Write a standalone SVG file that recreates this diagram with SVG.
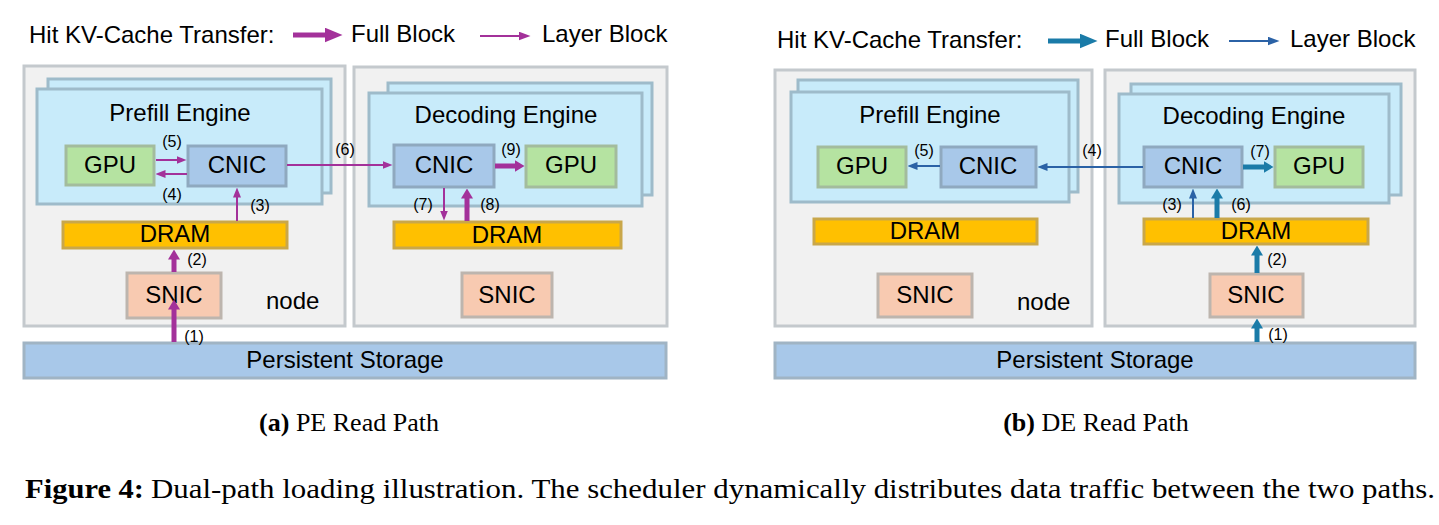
<svg xmlns="http://www.w3.org/2000/svg" width="1439" height="525" viewBox="0 0 1439 525">
<style>
.t{font-family:"Liberation Sans",Arial,Helvetica,sans-serif;font-size:24px;fill:#000}
.c{text-anchor:middle}
.l{font-family:"Liberation Sans",Arial,Helvetica,sans-serif;font-size:16px;fill:#000;text-anchor:middle}
.cap{font-family:"Liberation Serif","Times New Roman",serif;fill:#000}
.node{fill:#F1F1F1;stroke:#C4C9CD;stroke-width:3}
.eng{fill:#C8EBFA;stroke:#9EBBCA;stroke-width:3}
.gpu{fill:#B5E3A1;stroke:#A3BC9D;stroke-width:3}
.cnic{fill:#A8C8E9;stroke:#8FA9BF;stroke-width:3}
.dram{fill:#FFC000;stroke:#C9A74A;stroke-width:3}
.snic{fill:#F8CAB1;stroke:#BDB5AE;stroke-width:3}
.stor{fill:#A8C8E9;stroke:#A0B4C4;stroke-width:3}
.pT{stroke:#A3319A;stroke-width:5;fill:none}
.pt{stroke:#A3319A;stroke-width:2;fill:none}
.bT{stroke:#1A7BA8;stroke-width:5;fill:none}
.bt{stroke:#2B62A6;stroke-width:2;fill:none}
</style>
<defs>
<marker id="hPT" markerUnits="userSpaceOnUse" viewBox="0 0 10 12" markerWidth="10" markerHeight="12" refX="0.5" refY="6" orient="auto"><path d="M0,0 L10,6 L0,12 z" fill="#A3319A"/></marker>
<marker id="hPt" markerUnits="userSpaceOnUse" viewBox="0 0 10 8" markerWidth="10" markerHeight="8" refX="0.5" refY="4" orient="auto"><path d="M0,0 L10,4 L0,8 z" fill="#A3319A"/></marker>
<marker id="hBT" markerUnits="userSpaceOnUse" viewBox="0 0 10 12" markerWidth="10" markerHeight="12" refX="0.5" refY="6" orient="auto"><path d="M0,0 L10,6 L0,12 z" fill="#1A7BA8"/></marker>
<marker id="hBt" markerUnits="userSpaceOnUse" viewBox="0 0 10 8" markerWidth="10" markerHeight="8" refX="0.5" refY="4" orient="auto"><path d="M0,0 L10,4 L0,8 z" fill="#2B62A6"/></marker>
<marker id="lPT" markerUnits="userSpaceOnUse" viewBox="0 0 18 15" markerWidth="18" markerHeight="15" refX="0.5" refY="7.5" orient="auto"><path d="M0,0 L18,7.5 L0,15 z" fill="#A3319A"/></marker>
<marker id="lPt" markerUnits="userSpaceOnUse" viewBox="0 0 12 9" markerWidth="12" markerHeight="9" refX="0.5" refY="4.5" orient="auto"><path d="M0,0 L12,4.5 L0,9 z" fill="#A3319A"/></marker>
<marker id="lBT" markerUnits="userSpaceOnUse" viewBox="0 0 18 15" markerWidth="18" markerHeight="15" refX="0.5" refY="7.5" orient="auto"><path d="M0,0 L18,7.5 L0,15 z" fill="#1A7BA8"/></marker>
<marker id="lBt" markerUnits="userSpaceOnUse" viewBox="0 0 12 9" markerWidth="12" markerHeight="9" refX="0.5" refY="4.5" orient="auto"><path d="M0,0 L12,4.5 L0,9 z" fill="#2B62A6"/></marker>
</defs>
<rect width="1439" height="525" fill="#fff"/>

<!-- ===== Panel (a) ===== -->
<g id="a-legend">
<text class="t" x="29" y="43">Hit KV-Cache Transfer:</text>
<line class="pT" x1="293" y1="35" x2="325" y2="35" stroke-width="6" marker-end="url(#lPT)"/>
<text class="t" x="351" y="42">Full Block</text>
<line class="pt" x1="480" y1="36" x2="519" y2="36" marker-end="url(#lPt)"/>
<text class="t" x="542" y="42">Layer Block</text>
</g>
<g id="a-storage">
<rect class="stor" x="24" y="343" width="642" height="35"/>
<text class="t c" x="345" y="368">Persistent Storage</text>
</g>
<g id="a-node1">
<rect class="node" x="24" y="66" width="321" height="260"/>
<text class="t" x="266" y="309">node</text>
</g>
<g id="a-node2">
<rect class="node" x="354" y="67" width="313" height="259"/>
</g>
<g id="a-prefill">
<rect class="eng" x="48" y="79" width="283" height="114"/>
<rect class="eng" x="37" y="89" width="285" height="115"/>
<text class="t c" x="180" y="121">Prefill Engine</text>
</g>
<g id="a-gpu1"><rect class="gpu" x="66" y="146" width="88" height="39"/><text class="t c" x="110" y="173">GPU</text></g>
<g id="a-cnic1"><rect class="cnic" x="188" y="146" width="98" height="40"/><text class="t c" x="237" y="173">CNIC</text></g>
<g id="a-dram1"><rect class="dram" x="63" y="222" width="224" height="26"/><text class="t c" x="175" y="242">DRAM</text></g>
<g id="a-snic1"><rect class="snic" x="127" y="273" width="94" height="45"/><text class="t c" x="174" y="303">SNIC</text></g>
<g id="a-decoding">
<rect class="eng" x="388" y="83" width="264" height="112"/>
<rect class="eng" x="369" y="93" width="273" height="113"/>
<text class="t c" x="506" y="123">Decoding Engine</text>
</g>
<g id="a-cnic2"><rect class="cnic" x="394" y="145" width="100" height="42"/><text class="t c" x="444" y="173">CNIC</text></g>
<g id="a-gpu2"><rect class="gpu" x="526" y="146" width="90" height="41"/><text class="t c" x="571" y="173">GPU</text></g>
<g id="a-dram2"><rect class="dram" x="394" y="222" width="227" height="26"/><text class="t c" x="507" y="243">DRAM</text></g>
<g id="a-snic2"><rect class="snic" x="462" y="273" width="90" height="44"/><text class="t c" x="507" y="303">SNIC</text></g>

<!-- ===== Panel (b) ===== -->
<g id="b-legend">
<text class="t" x="777" y="48">Hit KV-Cache Transfer:</text>
<line class="bT" x1="1048" y1="41" x2="1080" y2="41" stroke-width="6" marker-end="url(#lBT)"/>
<text class="t" x="1105" y="47">Full Block</text>
<line class="bt" x1="1229" y1="41" x2="1268" y2="41" marker-end="url(#lBt)"/>
<text class="t" x="1290" y="47">Layer Block</text>
</g>
<g id="b-storage">
<rect class="stor" x="775" y="343" width="640" height="35"/>
<text class="t c" x="1095" y="368">Persistent Storage</text>
</g>
<g id="b-node1">
<rect class="node" x="775" y="70" width="317" height="256"/>
<text class="t" x="1017" y="310">node</text>
</g>
<g id="b-node2">
<rect class="node" x="1105" y="70" width="310" height="256"/>
</g>
<g id="b-prefill">
<rect class="eng" x="798" y="80" width="280" height="112"/>
<rect class="eng" x="791" y="92" width="278" height="110"/>
<text class="t c" x="930" y="123">Prefill Engine</text>
</g>
<g id="b-gpu1"><rect class="gpu" x="818" y="147" width="88" height="40"/><text class="t c" x="862" y="174">GPU</text></g>
<g id="b-cnic1"><rect class="cnic" x="941" y="147" width="95" height="40"/><text class="t c" x="988" y="174">CNIC</text></g>
<g id="b-dram1"><rect class="dram" x="814" y="219" width="223" height="25"/><text class="t c" x="925" y="239">DRAM</text></g>
<g id="b-snic1"><rect class="snic" x="878" y="274" width="94" height="43"/><text class="t c" x="925" y="303">SNIC</text></g>
<g id="b-decoding">
<rect class="eng" x="1131" y="84" width="270" height="111"/>
<rect class="eng" x="1119" y="94" width="270" height="109"/>
<text class="t c" x="1254" y="124">Decoding Engine</text>
</g>
<g id="b-cnic2"><rect class="cnic" x="1144" y="147" width="98" height="40"/><text class="t c" x="1193" y="174">CNIC</text></g>
<g id="b-gpu2"><rect class="gpu" x="1275" y="147" width="88" height="40"/><text class="t c" x="1319" y="174">GPU</text></g>
<g id="b-dram2"><rect class="dram" x="1144" y="219" width="224" height="25"/><text class="t c" x="1256" y="239">DRAM</text></g>
<g id="b-snic2"><rect class="snic" x="1210" y="274" width="93" height="43"/><text class="t c" x="1256" y="303">SNIC</text></g>

<!-- ===== Connectors ===== -->
<g id="connectors">
<line class="pt" x1="156" y1="160" x2="177" y2="160" marker-end="url(#hPt)"/>
<line class="pt" x1="187" y1="174" x2="165" y2="174" marker-end="url(#hPt)"/>
<line class="pt" x1="287" y1="165" x2="383" y2="165" marker-end="url(#hPt)"/>
<line class="pt" x1="237" y1="221" x2="237" y2="197" marker-end="url(#hPt)"/>
<line class="pT" x1="174" y1="272" x2="174" y2="259" marker-end="url(#hPT)"/>
<line class="pT" x1="174" y1="342" x2="174" y2="309" marker-end="url(#hPT)"/>
<line class="pT" x1="495" y1="166" x2="515" y2="166" marker-end="url(#hPT)"/>
<line class="pt" x1="444" y1="188" x2="444" y2="211" marker-end="url(#hPt)"/>
<line class="pT" x1="467" y1="221" x2="467" y2="198" marker-end="url(#hPT)"/>

<line class="bt" x1="940" y1="166" x2="917" y2="166" marker-end="url(#hBt)"/>
<line class="bt" x1="1143" y1="167" x2="1047" y2="167" marker-end="url(#hBt)"/>
<line class="bT" x1="1243" y1="167" x2="1264" y2="167" marker-end="url(#hBT)"/>
<line class="bt" x1="1193" y1="218" x2="1193" y2="198" marker-end="url(#hBt)"/>
<line class="bT" x1="1217" y1="218" x2="1217" y2="198" marker-end="url(#hBT)"/>
<line class="bT" x1="1257" y1="273" x2="1257" y2="255" marker-end="url(#hBT)"/>
<line class="bT" x1="1257" y1="342" x2="1257" y2="328" marker-end="url(#hBT)"/>
</g>

<g id="labels">
<text class="l" x="172" y="147">(5)</text>
<text class="l" x="172" y="200">(4)</text>
<text class="l" x="345" y="155">(6)</text>
<text class="l" x="260" y="211">(3)</text>
<text class="l" x="197" y="265">(2)</text>
<text class="l" x="194" y="342">(1)</text>
<text class="l" x="511" y="155">(9)</text>
<text class="l" x="423" y="210">(7)</text>
<text class="l" x="490" y="210">(8)</text>

<text class="l" x="924" y="156">(5)</text>
<text class="l" x="1092" y="156">(4)</text>
<text class="l" x="1260" y="157">(7)</text>
<text class="l" x="1172" y="210">(3)</text>
<text class="l" x="1241" y="210">(6)</text>
<text class="l" x="1277" y="265">(2)</text>
<text class="l" x="1278" y="340">(1)</text>
</g>

<g id="captions">
<text class="cap" x="349" y="431" font-size="26" text-anchor="middle"><tspan font-weight="bold">(a)</tspan> PE Read Path</text>
<text class="cap" x="1096" y="431" font-size="26" text-anchor="middle"><tspan font-weight="bold">(b)</tspan> DE Read Path</text>
<text class="cap" x="25" y="498" font-size="27" font-weight="bold" textLength="119" lengthAdjust="spacingAndGlyphs">Figure 4:</text>
<text class="cap" x="151" y="498" font-size="27" textLength="1284" lengthAdjust="spacingAndGlyphs">Dual-path loading illustration. The scheduler dynamically distributes data traffic between the two paths.</text>
</g>
</svg>
